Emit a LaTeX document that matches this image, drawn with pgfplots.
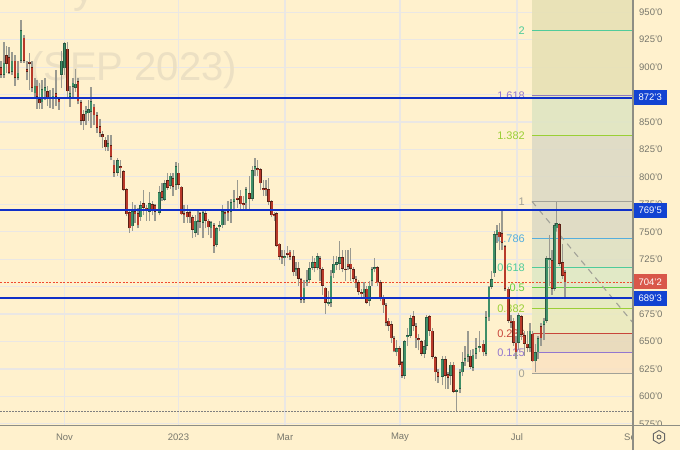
\documentclass[border=0pt]{standalone}
\usepackage{fontspec}
\setmainfont{Liberation Sans}
\usepackage{pgfplots}
\usepackage{pgfplotstable}
\pgfplotsset{compat=1.18}
\definecolor{bg}{HTML}{FFF1CD}
\definecolor{gridc}{HTML}{EAE7E4}
\definecolor{wick}{HTML}{9A9A90}
\definecolor{redin}{HTML}{B8392A}
\definecolor{redout}{HTML}{5A2014}
\definecolor{grnin}{HTML}{3F8F68}
\definecolor{grnout}{HTML}{2A5A42}
\definecolor{tick}{HTML}{77776C}
\definecolor{hline}{HTML}{1030C8}
\definecolor{boxblue}{HTML}{1243D2}
\definecolor{boxred}{HTML}{D9574A}
\definecolor{fibteal}{HTML}{4FCB9B}
\definecolor{fibblue}{HTML}{55AEDD}
\definecolor{fibgreen}{HTML}{66D044}
\definecolor{fiblime}{HTML}{9ACF35}
\definecolor{fibred}{HTML}{C8453A}
\definecolor{fibpurple}{HTML}{9377CF}
\definecolor{fibgray}{HTML}{A2A298}
\definecolor{axisc}{HTML}{8E8E84}
\definecolor{dotred}{HTML}{F04A30}
\definecolor{wmark}{HTML}{ECE0C3}
\definecolor{zonea}{HTML}{E7E1B4}
\definecolor{zoneb}{HTML}{DFE5C2}
\definecolor{zonec}{HTML}{DCDAC6}
\definecolor{zoned}{HTML}{DCDAC4}
\definecolor{zonee}{HTML}{DDE0C4}
\definecolor{zonef}{HTML}{DDE8C6}
\definecolor{zoneg}{HTML}{E3EAC0}
\definecolor{zoneh}{HTML}{E9EABF}
\definecolor{zonei}{HTML}{E7D9BB}
\definecolor{zonej}{HTML}{FBE3C2}

% t o h l c, prices in the chart's units, t along the time axis
\pgfplotstableread{
t o h l c
1 900 906 890 893
6.5 911 919 895 903
9 909 918 894 895
15 906 911 883 890
24 927 929 904 906
27 898 906 888 896
29.5 905 913 879 903
32 900 906 877 881
37 883 888 862 873
39.5 871 886 862 867
47.5 878 883 865 871
50 873 879 863 871
56 876 897 865 873
59 871 873 861 868
67.5 917 923 873 878
78 887 890 866 869
81 868 870 847 851
83.5 857 861 843 851
94 864 866 847 856
97 856 859 840 845
100 846 853 836 840
102.5 839 842 826 836
105.5 834 836 824 827
111 829 838 815 818
114 811 815 800 804
120.7 810 815 799 808
123.7 805 806 787 788
126.7 789 790 764 766
129.7 768 769 749 753
135 769 774 758 766
138 767 772 753 756
143.3 776 788 765 772
146.3 772 774 760 769
152.3 775 778 765 769
155 774 775 760 768
162 787 794 778 781
167.7 797 804 788 790
173 799 804 783 791
178.7 804 813 789 793
181.3 791 792 765 766
184 767 774 758 765
187.3 768 774 758 763
190 768 771 758 763
192.7 763 765 744 752
200 767 768 753 759
205.7 767 769 753 760
208.3 760 762 747 754
214 756 758 731 737
225 768 771 756 766
228 769 778 760 767
237.3 781 797 772 779
240.7 783 788 769 775
243.3 776 783 769 774
249.3 785 801 771 780
257.7 808 815 801 806
260.3 807 808 788 794
263.3 790 797 783 788
266 790 797 783 788
268.7 789 799 774 777
271.7 778 779 763 765
274.3 766 768 760 764
276.7 767 768 736 737
279.3 739 740 724 727
282 728 733 721 726
287.7 731 737 726 729
290 732 733 724 727
293.5 728 733 710 713
298.5 717 722 701 707
301 707 708 685 688
314.7 722 726 713 717
320 726 728 705 716
322.7 716 718 692 701
325.3 699 700 675 685
342.3 727 733 713 716
345.3 716 733 705 715
348 721 733 715 718
350.7 721 735 705 716
353.3 716 718 704 707
356 707 710 699 703
358.7 704 706 692 695
361.3 695 698 689 693
366.7 698 701 684 685
377.3 718 719 701 704
380.3 704 706 687 690
383.3 690 692 676 683
386 683 685 664 667
388.7 669 671 660 664
391.3 666 669 649 653
394 653 655 640 641
399.3 644 646 627 629
402 631 632 617 619
413.3 673 678 660 664
416 664 667 644 653
418.7 653 657 642 651
421.3 650 651 637 639
429.7 673 674 655 660
432.3 660 662 634 636
435.3 636 637 614 622
438 622 625 612 618
445.3 634 637 607 619
448 620 622 607 617
453.7 629 631 603 604
470.5 637 642 625 627
483.3 648 651 637 640
499.3 750 758 733 745
502 749 769 733 740
505 737 738 696 698
508.3 698 700 667 669
511 669 674 662 667
513.7 669 671 646 649
516 649 655 634 640
521.3 673 674 651 656
524.3 656 660 637 648
527.3 648 660 640 644
532.7 657 660 631 632
541 664 667 646 653
552 724 733 692 698
559.3 757 758 719 721
562.7 722 739 707 710
565 713 715 689 704
}\downcandles

\pgfplotstableread{
t o h l c
4 893 923 890 904
12 896 914 893 906
18 890 906 888 895
21 906 943 904 934
35 876 890 872 883
42 868 888 862 880
45 878 890 870 882
53 872 881 862 874
61.5 893 915 881 906
64.5 899 923 893 922
70 873 883 864 876
73 882 890 872 886
75.5 881 898 877 885
86 857 865 847 860
88.5 858 870 851 862
91 859 882 845 869
108 827 838 824 831
117.7 804 817 801 815
132.3 755 777 751 769
140.7 763 778 760 774
149.3 768 786 760 776
159.3 767 792 765 786
164.7 779 797 778 794
170.3 792 804 789 801
176 793 814 788 810
195.3 749 765 745 760
198 759 769 747 761
203 758 769 744 768
211 753 760 744 759
216.7 738 754 736 753
219.3 754 760 751 756
222.3 756 774 753 769
231 768 780 758 777
234 777 788 769 780
246 776 791 769 789
252.3 780 810 778 806
255 807 817 801 810
284.7 726 733 719 728
296 715 722 710 717
304 688 706 685 699
307 704 715 701 706
309.7 706 722 704 717
312.7 717 728 715 722
317.3 717 731 715 728
328.3 684 696 682 686
331 685 715 681 710
333.7 712 728 708 721
336.7 720 728 715 722
339.7 721 742 715 727
364 694 704 689 698
369.3 687 705 682 701
372 705 718 701 716
374.7 716 726 713 718
396.7 640 651 637 644
404.7 619 651 616 650
407.3 654 662 646 656
410.3 655 674 653 671
424.3 639 651 635 646
426.7 646 674 642 672
442.3 618 637 610 634
450.7 619 631 610 629
456.5 604 607 587 606
460 607 625 603 622
462.3 622 640 619 631
465 632 646 628 635
468 636 660 631 639
473 626 643 623 638
476 639 653 634 644
479.3 644 660 640 646
486 639 678 637 672
489 672 701 669 700
491.7 700 714 698 707
494.3 712 751 709 748
497 747 756 740 752
518.7 649 676 642 674
530 644 667 640 660
535.3 632 648 622 640
538 640 655 634 653
544 665 671 651 669
546.7 669 728 667 726
549.3 724 747 701 726
554.7 698 758 696 756
556.7 753 777 751 758
}\upcandles

\newcommand{\band}[3]{\addplot[draw=none,fill=#3,fill opacity=0.88,forget plot] coordinates {(532,#1)(633,#1)(633,#2)(532,#2)} --cycle;}
\newcommand{\fibline}[2]{\addplot[#2,line width=1.4pt,forget plot] coordinates {(532,#1)(633,#1)};}
\newcommand{\wicks}[1]{\addplot[draw=none,mark=none,forget plot,error bars/.cd,y dir=plus,y explicit,error mark=none,error bar style={line width=1.1pt,wick}] table[x=t,y=l,y error plus expr=\thisrow{h}-\thisrow{l}] {#1};}
\newcommand{\bodies}[5]{%
\addplot[draw=none,mark=none,forget plot,error bars/.cd,y dir=plus,y explicit,error mark=none,error bar style={line width=2.8pt,#4}] table[x=t,y=#1,y error plus expr=\thisrow{#2}-\thisrow{#1}] {#3};
\addplot[draw=none,mark=none,forget plot,error bars/.cd,y dir=plus,y explicit,error mark=none,error bar style={line width=1.7pt,#5}] table[x=t,y expr=\thisrow{#1}+0.6,y error plus expr={max(\thisrow{#2}-\thisrow{#1}-1.2,0)}] {#3};}
\newcommand{\fiblab}[3]{\node[text=#3,font=\fontsize{11}{11}\selectfont,anchor=east,inner sep=0] at (axis cs:525,#1) {#2};}
\newcommand{\pricelab}[2]{\node[text=tick,font=\fontsize{9.5}{9.5}\selectfont,anchor=west,inner sep=0] at (axis cs:639,#1) {#2};}
\newcommand{\timelab}[2]{\node[text=tick,font=\fontsize{9.5}{9.5}\selectfont,inner sep=0] at (axis cs:#1,563) {#2};}
\newcommand{\pricebox}[3]{\node[fill=#3,text=white,font=\fontsize{9.5}{9.5}\selectfont,minimum width=34pt,minimum height=15pt,inner sep=0,anchor=west] at (axis cs:633,#1) {#2};}

\begin{document}
\begin{tikzpicture}[x=1pt,y=1pt]
\fill[bg] (0,0) rectangle (680,450);
\useasboundingbox (0,0) rectangle (680,450);
\begin{axis}[
  at={(0pt,25pt)},anchor=south west,
  scale only axis,width=633pt,height=425pt,
  xmin=0,xmax=633,ymin=573.9,ymax=961.2,
  axis line style={draw=none},
  clip mode=individual,
  grid=major,
  major grid style={gridc,line width=1.2pt},
  xtick={64.5,178.5,285,400,517},
  xticklabels={},
  ytick={575,600,625,650,675,700,725,750,775,800,825,850,875,900,925,950},
  yticklabels={},
  major tick length=0pt,
]
% watermark
\node[text=wmark,font=\fontsize{40}{40}\selectfont,anchor=base west,inner sep=0] at (axis cs:30,888) {(SEP 2023)};
\node[text=wmark,font=\fontsize{43}{43}\selectfont,anchor=base,inner sep=0] at (axis cs:84,959) {y};
% fibonacci zones
\band{961.2}{874.2}{zonea}
\band{874.2}{837.7}{zoneb}
\band{837.7}{777.6}{zonec}
\band{777.6}{743.9}{zoned}
\band{743.9}{717.5}{zonee}
\band{717.5}{699.2}{zonef}
\band{699.2}{680.1}{zoneg}
\band{680.1}{657.3}{zoneh}
\band{657.3}{640}{zonei}
\band{640}{620.9}{zonej}
\fibline{933.4}{fibteal}
\fibline{874.2}{fibpurple!80!gray}
\fibline{837.7}{fiblime}
\fibline{777.6}{fibgray}
\fibline{743.9}{fibblue}
\fibline{717.5}{fibteal}
\fibline{699.2}{fibgreen}
\fibline{680.1}{fiblime}
\fibline{657.3}{fibred}
\fibline{640}{fibpurple}
\fibline{620.9}{fibgray}
\addplot[fibgray,line width=1.1pt,dash pattern=on 6pt off 5pt,forget plot] coordinates {(532,777.6)(633,667)};
% fibonacci labels
\fiblab{933.4}{2}{fibteal}
\fiblab{874.2}{1.618}{fibpurple}
\fiblab{837.7}{1.382}{fiblime}
\fiblab{777.6}{1}{fibgray}
\fiblab{743.9}{0.786}{fibblue}
\fiblab{717.5}{0.618}{fibteal}
\fiblab{699.2}{0.5}{fibgreen}
\fiblab{680.1}{0.382}{fiblime}
\fiblab{657.3}{0.236}{fibred}
\fiblab{640}{0.125}{fibpurple}
\fiblab{620.9}{0}{fibgray}
% level lines below the candles
\addplot[color=dotred,line width=1.1pt,dash pattern=on 2pt off 1.5pt,forget plot] coordinates {(0,703.9)(633,703.9)};
\addplot[gray,line width=1pt,dash pattern=on 1.5pt off 1.5pt,forget plot] coordinates {(0,586.6)(633,586.6)};
% candles
\wicks{\downcandles}
\wicks{\upcandles}
\bodies{c}{o}{\downcandles}{redout}{redin}
\bodies{o}{c}{\upcandles}{grnout}{grnin}
% horizontal levels
\addplot[hline,line width=1.8pt,forget plot] coordinates {(0,872.25)(633,872.25)};
\addplot[hline,line width=1.8pt,forget plot] coordinates {(0,769.6)(633,769.6)};
\addplot[hline,line width=1.8pt,forget plot] coordinates {(0,689.4)(633,689.4)};
% price scale
\pricelab{575}{575'0}
\pricelab{600}{600'0}
\pricelab{625}{625'0}
\pricelab{650}{650'0}
\pricelab{675}{675'0}
\pricelab{725}{725'0}
\pricelab{750}{750'0}
\pricelab{775}{775'0}
\pricelab{800}{800'0}
\pricelab{825}{825'0}
\pricelab{850}{850'0}
\pricelab{900}{900'0}
\pricelab{925}{925'0}
\pricelab{950}{950'0}
% time scale
\timelab{64.5}{Nov}
\timelab{178.5}{2023}
\timelab{285}{Mar}
\timelab{400}{May}
\timelab{517}{Jul}
\timelab{630}{Se}
% price boxes
\pricebox{872.25}{872'3}{boxblue}
\pricebox{769.6}{769'5}{boxblue}
\pricebox{704.25}{704'2}{boxred}
\pricebox{689.4}{689'3}{boxblue}
\end{axis}
\fill[bg] (633.5,0) rectangle (680,25);
\draw[axisc,line width=1.4pt] (633,0) -- (633,450);
\draw[axisc,line width=1pt] (0,25) -- (680,25);
% settings icon
\draw[black!60,line width=0.9pt] (659,13) ++(90:6.5) -- ++(-30:6.5) -- ++(-90:6.5) -- ++(-150:6.5) -- ++(150:6.5) -- ++(90:6.5) -- cycle;
\draw[black!60,line width=0.9pt] (659,13) circle (2pt);
\end{tikzpicture}
\end{document}
